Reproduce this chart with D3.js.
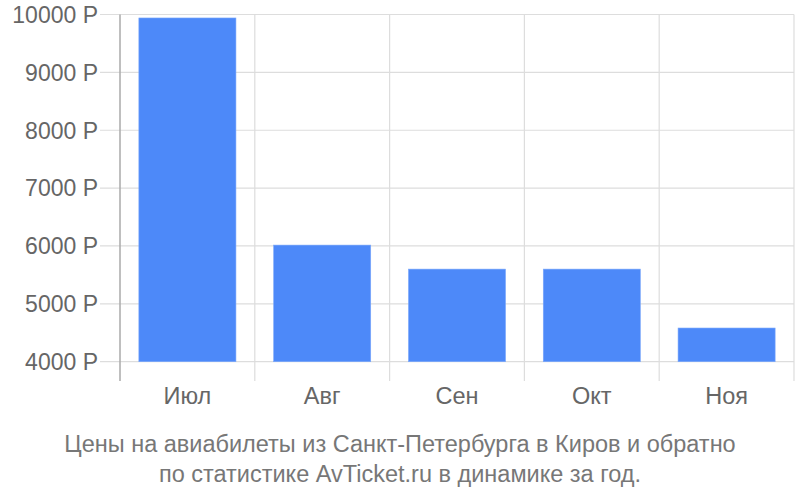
<!DOCTYPE html>
<html><head><meta charset="utf-8">
<script src="https://cdn.jsdelivr.net/npm/d3@7"></script>
<style>body{margin:0;background:#fff}svg{display:block}text{font-family:"Liberation Sans",Arial,sans-serif}</style>
</head><body>
<svg id="c" width="800" height="500"></svg>
<script>
const categories = ["Июл","Авг","Сен","Окт","Ноя"];
const values = [9940, 6015, 5600, 5600, 4582];
const yTicks = [4000,5000,6000,7000,8000,9000,10000];
const caption = ["Цены на авиабилеты из Санкт-Петербурга в Киров и обратно","по статистике AvTicket.ru в динамике за год."];

const svg = d3.select("#c");
const L=120, R=794, T=14.5, B=361.7;
const x = d3.scaleBand().domain(categories).range([L,R]).paddingInner(0.28).paddingOuter(0.14);
const y = d3.scaleLinear().domain([4000,10000]).range([B,T]);

// horizontal grid
svg.append("g").selectAll("line").data(yTicks).join("line")
  .attr("x1",100).attr("x2",R).attr("y1",d=>y(d)).attr("y2",d=>y(d))
  .attr("stroke","#dddddd").attr("stroke-width",1.2);
// vertical grid / category separators
const seps = categories.map((c,i)=>L+(R-L)/categories.length*(i+1));
svg.append("g").selectAll("line").data(seps).join("line")
  .attr("x1",d=>d).attr("x2",d=>d).attr("y1",T).attr("y2",381)
  .attr("stroke","#dddddd").attr("stroke-width",1.2);
// left axis
svg.append("line").attr("x1",L).attr("x2",L).attr("y1",T).attr("y2",381)
  .attr("stroke","#aaaaaa").attr("stroke-width",1.5);

// bars
svg.append("g").selectAll("rect").data(values).join("rect")
  .attr("x",(d,i)=>x(categories[i])).attr("width",x.bandwidth())
  .attr("y",d=>y(d)).attr("height",d=>B-y(d))
  .attr("fill","#4d89f9").attr("stroke","#7aa7fb").attr("stroke-width",0.6);

// y labels
svg.append("g").selectAll("text").data(yTicks).join("text")
  .attr("x",98).attr("y",d=>y(d)).attr("dy","0.36em").attr("text-anchor","end")
  .attr("font-size",23).attr("fill","#666").text(d=>d+" Р");
// x labels
svg.append("g").selectAll("text").data(categories).join("text")
  .attr("x",d=>x(d)+x.bandwidth()/2).attr("y",404).attr("text-anchor","middle")
  .attr("font-size",23.5).attr("fill","#666").text(d=>d);
// caption
svg.append("g").selectAll("text").data(caption).join("text")
  .attr("x",400).attr("y",(d,i)=>452+i*30).attr("text-anchor","middle")
  .attr("font-size",23.5).attr("fill","#777").text(d=>d);
</script>
</body></html>
